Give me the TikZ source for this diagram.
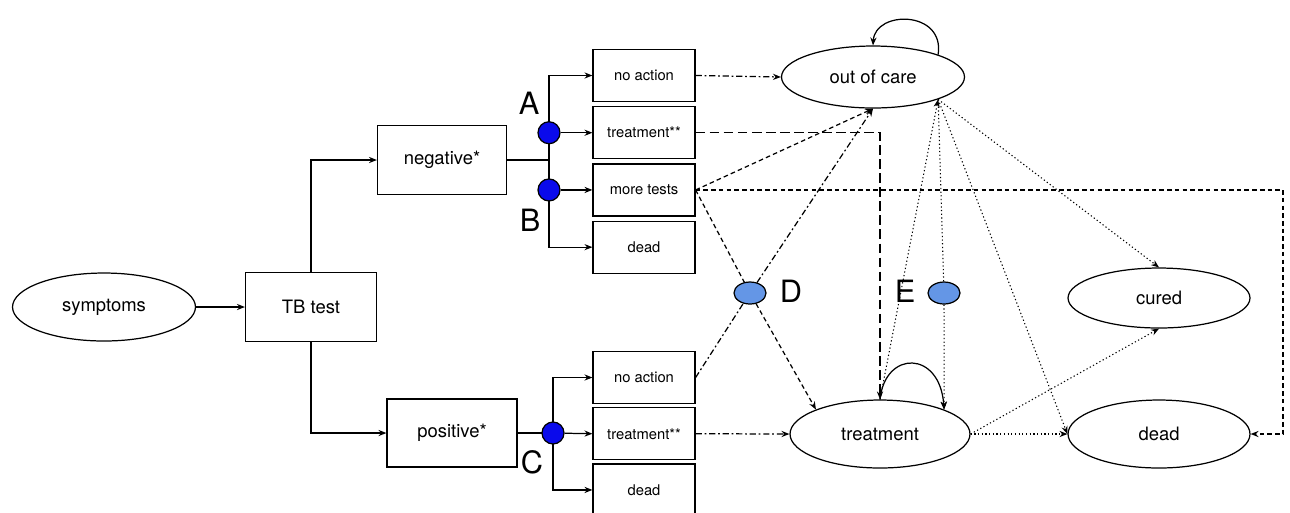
\documentclass[tikz,border=0pt]{standalone}
\usepackage{fontspec}
\setmainfont{TeX Gyre Heros}
\usetikzlibrary{shapes.geometric,arrows.meta,positioning}
\definecolor{dotblue}{RGB}{10,10,235}
\definecolor{juncblue}{RGB}{100,150,230}
\begin{document}
\begin{tikzpicture}[x=0.02cm,y=-0.02cm,line width=0.7pt,
  >={Stealth[length=4.5pt,width=3.5pt]},
  state/.style={ellipse,draw,inner sep=0pt,font=\fontsize{10.5}{12}\selectfont},
  bigbox/.style={rectangle,draw,inner sep=0pt,font=\fontsize{10.5}{12}\selectfont},
  smallbox/.style={rectangle,draw,minimum width=2.04cm,minimum height=1.04cm,inner sep=0pt,font=\fontsize{8.4}{10}\selectfont},
  choice/.style={circle,draw,fill=dotblue,minimum size=0.44cm,inner sep=0pt},
  cross/.style={ellipse,draw,fill=juncblue,minimum width=0.64cm,minimum height=0.44cm,inner sep=0pt},
  letter/.style={font=\fontsize{17.5}{20}\selectfont,inner sep=0pt},
  pdashdot/.style={dash pattern=on 3.5pt off 1.6pt on 1pt off 1.6pt},
  plong/.style={dash pattern=on 5.5pt off 2.5pt},
  pdash/.style={dash pattern=on 2.6pt off 1.8pt},
  pdot/.style={dash pattern=on 0.7pt off 1.4pt,line width=0.6pt}]
\useasboundingbox (0,0) rectangle (1290,512);
% test
\node[state,minimum width=3.66cm,minimum height=1.36cm] (symp) at (104,307) {symptoms};
\node[bigbox,minimum width=2.62cm,minimum height=1.38cm] (tb) at (311,307) {TB test};
\node[bigbox,minimum width=2.58cm,minimum height=1.38cm] (neg) at (442,160) {negative*};
\node[bigbox,minimum width=2.6cm,minimum height=1.36cm] (pos) at (452,433) {positive*};
\draw[->] (symp.east) -- (tb.west);
\draw[->] (tb.north) |- (neg.west);
\draw[->] (tb.south) |- (pos.west);
% after a negative result
\node[smallbox] (noact1) at (644,75.5) {no action};
\node[smallbox,below=0.08cm of noact1] (trt1) {treatment**};
\node[smallbox,below=0.08cm of trt1] (more1) {more tests};
\node[smallbox,below=0.08cm of more1] (dead1) {dead};
\coordinate (jn) at (549,160);
\draw (neg.east) -- (jn);
\draw[->] (jn) |- (noact1.west);
\draw[->] (jn) |- (dead1.west);
\node[choice] (dotA) at (jn |- trt1.west) {};
\node[choice] (dotB) at (jn |- more1.west) {};
\draw[->] (dotA) -- (trt1.west);
\draw[->] (dotB) -- (more1.west);
\node[letter] (labA) at (529,103) {A};
\node[letter] (labB) at (530,220) {B};
% after a positive result
\node[smallbox] (noact2) at (644,377.5) {no action};
\node[smallbox,below=0.06cm of noact2] (trt2) {treatment**};
\node[smallbox,below=0.06cm of trt2] (dead2) {dead};
\coordinate (jc) at (553,433);
\draw (pos.east) -- (jc);
\draw[->] (jc) |- (noact2.west);
\draw[->] (jc) |- (dead2.west);
\node[choice] (dotC) at (jc) {};
\draw[->] (dotC) -- (trt2.west);
\node[letter] (labC) at (532,462) {C};
% states
\node[state,minimum width=3.66cm,minimum height=1.24cm] (outcare) at (873,77) {out of care};
\node[state,minimum width=3.6cm,minimum height=1.36cm] (treat) at (880,434) {treatment};
\node[state,minimum width=3.64cm,minimum height=1.2cm] (cured) at (1159,298) {cured};
\node[state,minimum width=3.64cm,minimum height=1.36cm] (deadst) at (1159,434) {dead};
\node[cross] (D) at (750,293) {};
\node[cross] (E) at (944,293) {};
\node[letter] (labD) at (791,291) {D};
\node[letter] (labE) at (905,291) {E};
\coordinate (rt) at (1283,300);
% loops
\draw[->] (outcare.north east) .. controls (945,10) and (875,10) .. (outcare.north);
\draw[->] (treat.north) .. controls (885,350) and (940,350) .. (treat.north east);
% transitions
\draw[->,pdashdot] (noact1.east) -- (outcare.west);
\draw[->,plong] (trt1.east) -| (treat.north);
\draw[->,pdash] (more1.east) -- (outcare.south);
\draw[->,pdash] (more1.east) -- (D) -- (treat.north west);
\draw[->,pdash] (more1.east) -| (rt) |- (deadst.east);
\draw[->,pdashdot] (noact2.east) -- (D) -- (outcare.south);
\draw[->,pdashdot] (trt2.east) -- (treat.west);
\draw[->,pdot] (treat.north) -- (outcare.south east);
\draw[->,pdot] (outcare.south east) -- (E) -- (treat.north east);
\draw[->,pdot] (outcare.south east) -- (cured.north);
\draw[->,pdot] (outcare.south east) -- (deadst.west);
\draw[->,pdot] (treat.east) -- (deadst.west);
\draw[->,pdot] (treat.east) -- (cured.south);
\end{tikzpicture}
\end{document}
